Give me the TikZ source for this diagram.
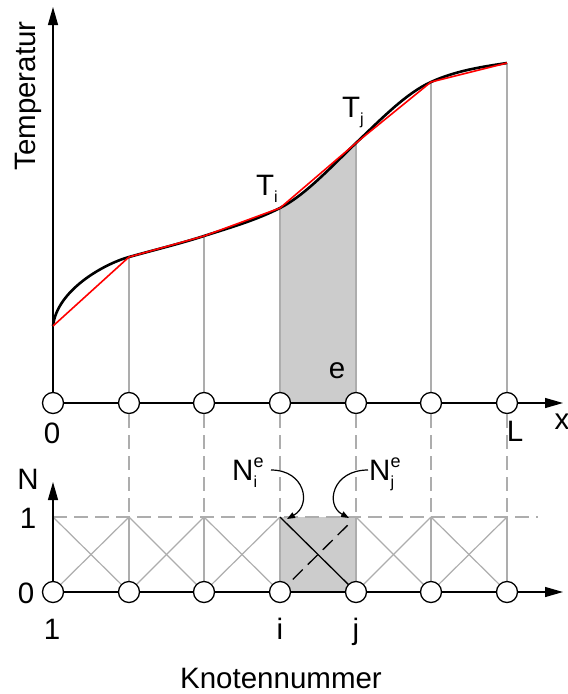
\documentclass[tikz,border=0pt]{standalone}
\usepackage{fontspec}
\setmainfont{Liberation Sans}
\usetikzlibrary{arrows.meta}
\newcommand\lsub[1]{\raisebox{-7pt}{\fontsize{16}{16}\selectfont #1}}
\newcommand\lsup[1]{\raisebox{13pt}{\fontsize{18}{18}\selectfont #1}}
\begin{document}
\begin{tikzpicture}[x=1pt,y=-1pt,
  axis/.style={line width=1.3pt,draw=black},
  axarrow/.style={axis,-{Triangle[length=18pt,width=10pt]}},
  knot/.style={circle,draw=black,fill=white,line width=1.3pt,minimum size=21pt,inner sep=0pt},
  grayline/.style={draw=black!32,line width=1.2pt},
  graydash/.style={grayline,dash pattern=on 14pt off 7pt},
  shadefill/.style={fill=black!20},
  elemline/.style={draw=black,line width=1.3pt},
  curvarrow/.style={draw=black,line width=1.2pt,-{Triangle[length=8pt,width=6pt]}},
  lbl/.style={font=\fontsize{29.5}{29.5}\selectfont,inner sep=0pt},
  solcurve/.style={draw=black,line width=2.6pt},
  approx/.style={draw=red,line width=1.6pt,line join=round}
]
\useasboundingbox (0,0) rectangle (568,694);
\foreach \n/\x in {0/53,1/129,2/204,3/280,4/356,5/431,6/507} {
  \coordinate (cu\n) at (\x,403);
  \coordinate (cl\n) at (\x,592);
  \coordinate (t\n) at (\x,517);
}
\coordinate (p0) at (53,326);
\coordinate (p1) at (129,257);
\coordinate (p2) at (204,236);
\coordinate (p3) at (280,208);
\coordinate (p4) at (356,143);
\coordinate (p5) at (431,82);
\coordinate (p6) at (507,63);
\coordinate (ytop) at (53,7);
\coordinate (xend) at (563,403);
\coordinate (ntop) at (53,482);
\coordinate (nxend) at (563,592);
\coordinate (dend) at (538,517);

% shaded element areas
\fill[shadefill] (cu3) -- (p3) .. controls (305,195.3) and (331,167) .. (p4) -- (cu4) -- cycle;
\fill[shadefill] (t3) rectangle (cl4);

% gray verticals
\foreach \n in {1,...,6} {
  \draw[grayline] (cu\n) -- (p\n);
  \draw[grayline] (t\n) -- (cl\n);
}
% shape functions
\foreach \a/\b in {0/1,1/2,2/3,4/5,5/6} {
  \draw[grayline] (t\a) -- (cl\b);
  \draw[grayline] (cl\a) -- (t\b);
}
\draw[graydash] (t0) -- (dend);

% element shape functions
\draw[elemline] (t3) -- (cl4);
\draw[elemline,dash pattern=on 14pt off 7pt,shorten <=18pt,shorten >=10pt] (cl3) -- (t4);

% axes
\draw[axarrow] (cu0) -- (ytop);
\draw[axarrow] (cu0) -- (xend);
\draw[axarrow] (cl0) -- (ntop);
\draw[axarrow] (cl0) -- (nxend);

% exact temperature curve
\draw[solcurve] (p0) .. controls (57,290) and (104,264) .. (p1)
  .. controls (154,250) and (179,244) .. (p2)
  .. controls (229,227.9) and (255,220.7) .. (p3)
  .. controls (305,195.3) and (331,167) .. (p4)
  .. controls (381,119.25) and (406,93.25) .. (p5)
  .. controls (456,70.6) and (482,66.8) .. (p6);
% linear approximation
\draw[approx] (p0) -- (p1) -- (p2) -- (p3) -- (p4) -- (p5) -- (p6);

% knots
\foreach \n in {0,...,6} {
  \node[knot] (u\n) at (cu\n) {};
  \node[knot] (l\n) at (cl\n) {};
}
\foreach \n in {1,...,6} {
  \draw[graydash] (u\n.south) -- (t\n);
}

% labels
\node[lbl,rotate=90,anchor=base] (ylab) at (35,96) {Temperatur};
\node[lbl,anchor=base] (lab0) at (52,443) {0};
\node[lbl,anchor=base] (labL) at (515,441) {L};
\node[lbl,anchor=base] (labx) at (562,429) {x};
\node[lbl,anchor=base] (labe) at (337,378) {e};
\node[lbl,anchor=base west] (labTi) at (256,195) {T\lsub{i}};
\node[lbl,anchor=base west] (labTj) at (342,117) {T\lsub{j}};
\node[lbl,anchor=base] (labN) at (28,489) {N};
\node[lbl,anchor=base] (lab1) at (28,528) {1};
\node[lbl,anchor=base] (labN0) at (26,603) {0};
\node[lbl,anchor=base] (kn1) at (52,639) {1};
\node[lbl,anchor=base] (kni) at (280,639) {i};
\node[lbl,anchor=base] (knj) at (356,639) {j};
\node[lbl,anchor=base] (knlab) at (281,688) {Knotennummer};
\node[lbl,anchor=base west] (labNi) at (232,480) {N\rlap{\lsub{i}}\lsup{e}};
\node[lbl,anchor=base west] (labNj) at (369,480) {N\rlap{\lsub{j}}\lsup{e}};

% pointers to shape functions
\coordinate (nia) at (271,470);
\coordinate (nib) at (287,519);
\coordinate (nja) at (368,470);
\coordinate (njb) at (349,518);
\draw[curvarrow] (nia) .. controls (305,470) and (312,505) .. (nib);
\draw[curvarrow] (nja) .. controls (332,470) and (325,505) .. (njb);
\end{tikzpicture}
\end{document}
